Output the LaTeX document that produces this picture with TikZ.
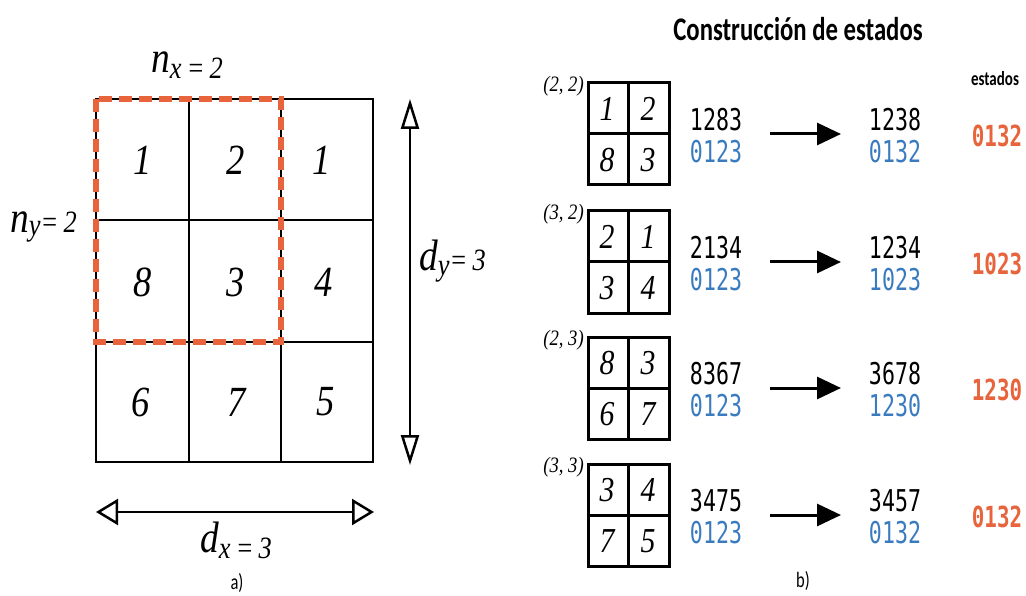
\documentclass[tikz,border=0pt]{standalone}
\usepackage{fontspec}
\usetikzlibrary{arrows.meta}
\newfontfamily\serifit[FakeStretch=0.85]{Liberation Serif}
\newfontfamily\monof[FakeStretch=0.72]{DejaVu Sans Mono}
\newfontfamily\sansf[FakeStretch=0.75]{Carlito}
\definecolor{orng}{HTML}{E8643C}
\definecolor{blu}{HTML}{3A7BBF}
\tikzset{
  gridline/.style={line width=2.5pt, black},
  smallgrid/.style={line width=3pt, black},
  dashbox/.style={line width=5.5pt, orng, dash pattern=on 13pt off 7pt},
  bignum/.style={font=\serifit\itshape\fontsize{43}{43}\selectfont, inner sep=0pt},
  smallnum/.style={font=\serifit\itshape\fontsize{35}{35}\selectfont, inner sep=0pt},
  pairlab/.style={font=\serifit\itshape\fontsize{22}{22}\selectfont, inner sep=0pt, anchor=east},
  codeblack/.style={font=\monof\fontsize{30}{30}\selectfont, inner sep=0pt},
  codeblue/.style={font=\monof\fontsize{30}{30}\selectfont, text=blu, inner sep=0pt},
  codeorng/.style={font=\monof\bfseries\fontsize{29}{29}\selectfont, text=orng, inner sep=0pt},
  vdim/.style={line width=2.5pt, {Triangle[open,length=30pt,width=18pt,line width=2.5pt]}-{Triangle[open,length=30pt,width=18pt,line width=2.5pt]}},
  hdim/.style={line width=2.5pt, {Triangle[open,length=22pt,width=26pt,line width=2.5pt]}-{Triangle[open,length=22pt,width=26pt,line width=2.5pt]}},
  maparrow/.style={line width=3pt, -{Triangle[length=24pt,width=22pt]}},
  dimlab/.style={inner sep=0pt, font=\serifit\itshape},
  caption/.style={font=\sansf\fontsize{22}{22}\selectfont, inner sep=0pt}
}
\begin{document}
\begin{tikzpicture}[x=1pt,y=-1pt]
\useasboundingbox (0,0) rectangle (1026,596);
\fill[white] (0,0) rectangle (1026,596);
% ---------- left grid ----------
\draw[gridline] (96,99) rectangle (373,462);
\draw[gridline] (189,99) -- (189,462);
\draw[gridline] (281,99) -- (281,462);
\draw[gridline] (96,220) -- (373,220);
\draw[gridline] (96,342) -- (373,342);
\draw[dashbox] (96,99) rectangle (281,342);
\node[bignum] (c11) at (143,160) {1};
\node[bignum] (c12) at (236,160) {2};
\node[bignum] (c13) at (322,160) {1};
\node[bignum] (c21) at (143,282) {8};
\node[bignum] (c22) at (236,282) {3};
\node[bignum] (c23) at (324,282) {4};
\node[bignum] (c31) at (141,402) {6};
\node[bignum] (c32) at (237,402) {7};
\node[bignum] (c33) at (326,402) {5};
% labels
\node[dimlab, anchor=base west] (nx) at (151,73) {{\fontsize{44}{44}\selectfont n}\raisebox{-6pt}{\fontsize{31}{31}\selectfont x\,=\,2}};
\node[dimlab, anchor=base west] (ny) at (10,233) {{\fontsize{44}{44}\selectfont n}\raisebox{-3pt}{\fontsize{31}{31}\selectfont y}{\fontsize{31}{31}\selectfont =\,2}};
\node[dimlab, anchor=base west] (dy) at (419,271) {{\fontsize{44}{44}\selectfont d}\raisebox{-5pt}{\fontsize{31}{31}\selectfont y}{\fontsize{31}{31}\selectfont =\,3}};
\node[dimlab, anchor=base west] (dx) at (200,552) {{\fontsize{44}{44}\selectfont d}\raisebox{-6pt}{\fontsize{31}{31}\selectfont x\,=\,3}};
% dimension arrows
\coordinate (vt) at (410,99);
\coordinate (vb) at (410,465);
\draw[vdim] (vt) -- (vb);
\coordinate (hl) at (96,512);
\coordinate (hr) at (374,512);
\draw[hdim] (hl) -- (hr);
\node[caption] (capa) at (237,583) {a)};
% ---------- right part ----------
\node[font=\sansf\bfseries\fontsize{33}{33}\selectfont, inner sep=0pt] (title) at (798,29) {Construcción de estados};
\node[font=\sansf\bfseries\fontsize{20}{20}\selectfont, inner sep=0pt] (est) at (995,79) {estados};
\foreach \i/\yc/\lab/\a/\b/\c/\d/\ta/\tb/\ra/\rb/\st in {
  1/134/{(2, 2)}/1/2/8/3/1283/0123/1238/0132/0132,
  2/262/{(3, 2)}/2/1/3/4/2134/0123/1234/1023/1023,
  3/388/{(2, 3)}/8/3/6/7/8367/0123/3678/1230/1230,
  4/515/{(3, 3)}/3/4/7/5/3475/0123/3457/0132/0132}{
  \draw[smallgrid] (588,\yc-51) rectangle (669,\yc+51);
  \draw[smallgrid] (628,\yc-51) -- (628,\yc+51);
  \draw[smallgrid] (588,\yc) -- (669,\yc);
  \node[pairlab] (p\i) at (584,\yc-48) {\lab};
  \node[smallnum] (ga\i) at (607,\yc-25) {\a};
  \node[smallnum] (gb\i) at (648,\yc-25) {\b};
  \node[smallnum] (gc\i) at (607,\yc+26) {\c};
  \node[smallnum] (gd\i) at (648,\yc+26) {\d};
  \node[codeblack] (ta\i) at (716,\yc-14) {\ta};
  \node[codeblue] (tb\i) at (716,\yc+18) {\tb};
  \node[codeblack] (ra\i) at (895,\yc-14) {\ra};
  \node[codeblue] (rb\i) at (895,\yc+18) {\rb};
  \node[codeorng] (st\i) at (997,\yc+2) {\st};
  \coordinate (as\i) at (770,\yc);
  \coordinate (ae\i) at (841,\yc);
  \draw[maparrow] (as\i) -- (ae\i);
}
\node[caption] (capb) at (803,581) {b)};
\end{tikzpicture}
\end{document}
